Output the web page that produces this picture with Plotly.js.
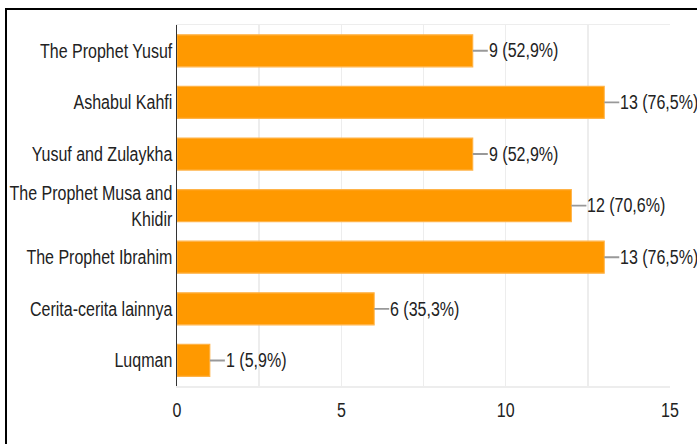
<!DOCTYPE html>
<html>
<head>
<meta charset="utf-8">
<script src="https://cdn.plot.ly/plotly-3.0.1.min.js"></script>
<style>
  html, body { margin: 0; padding: 0; background: #fff; }
  #wrap { position: relative; width: 697px; height: 444px; overflow: hidden; }
  #chart { position: absolute; left: 0; top: 0; width: 697px; height: 355.2px;
           transform: scaleY(1.25); transform-origin: 0 0; }
  #frame { position: absolute; left: 5px; top: 8px; width: 700px; height: 450px;
           border-top: 2px solid #000; border-left: 2px solid #000; pointer-events: none; }
</style>
</head>
<body>
<div id="wrap">
  <div id="chart"></div>
  <div id="frame"></div>
</div>
<script>
const categories = [
  "The Prophet Yusuf",
  "Ashabul Kahfi",
  "Yusuf and Zulaykha",
  "The Prophet Musa and<br>Khidir",
  "The Prophet Ibrahim",
  "Cerita-cerita lainnya",
  "Luqman"
];
const counts = [9, 13, 9, 12, 13, 6, 1];
const percents = ["52,9%", "76,5%", "52,9%", "70,6%", "76,5%", "35,3%", "5,9%"];
const xTickVals = [0, 5, 10, 15];

const FONT = "Liberation Sans, Arial, sans-serif";
const TXT = "#222";
const FS = 16;

const trace = {
  type: "bar",
  orientation: "h",
  x: counts,
  y: categories,
  marker: { color: "#ff9900", line: { color: "#ffb347", width: 1 } },
  hoverinfo: "none"
};

const annotations = counts.map((v, i) => ({
  x: v, y: categories[i], xref: "x", yref: "y",
  text: v + " (" + percents[i] + ")",
  showarrow: true, arrowhead: 0, arrowwidth: 1.5, arrowcolor: "#999",
  ax: 15, ay: 0, xanchor: "left", standoff: 0, startstandoff: 0,
  borderpad: 0,
  font: { family: FONT, size: FS, color: TXT }
}));

const layout = {
  width: 697, height: 355.2,
  margin: { l: 177, r: 27, t: 20, b: 46.4 },
  paper_bgcolor: "#fff", plot_bgcolor: "#fff",
  bargap: 0.38,
  showlegend: false,
  font: { family: FONT, size: FS, color: TXT },
  xaxis: {
    range: [0, 15],
    tickvals: xTickVals,
    ticktext: xTickVals.map(String),
    showgrid: true, gridcolor: "#ededed", gridwidth: 1.5,
    minor: { dtick: 2.5, tick0: 0, showgrid: true, gridcolor: "#ededed", gridwidth: 1.5 },
    zeroline: false,
    showline: true, mirror: true, linecolor: "#ededed", linewidth: 1.2,
    ticks: "", ticklabelstandoff: 4,
    tickfont: { family: FONT, size: FS, color: TXT }
  },
  yaxis: {
    autorange: "reversed",
    showgrid: false, zeroline: false,
    showline: true, linecolor: "#333", linewidth: 1.5,
    ticks: "", ticklabelstandoff: 0,
    tickfont: { family: FONT, size: FS, color: TXT }
  },
  annotations: annotations
};

Plotly.newPlot("chart", [trace], layout, { displayModeBar: false, staticPlot: true });
</script>
</body>
</html>
